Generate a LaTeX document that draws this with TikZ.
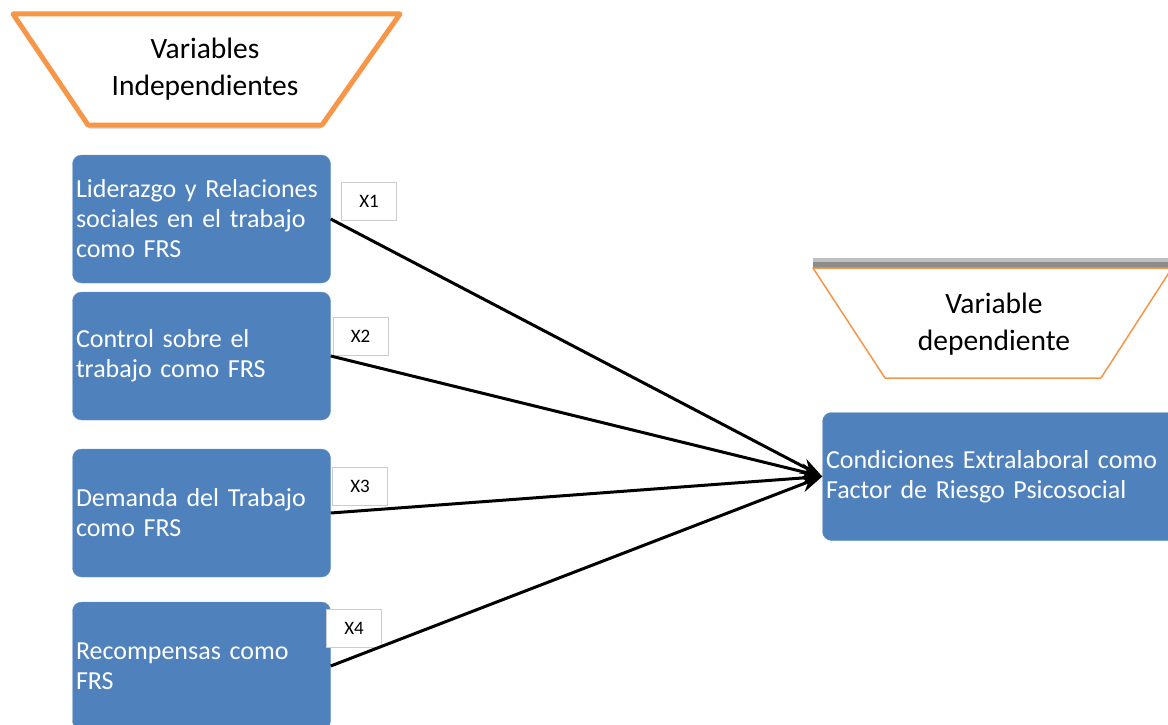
\documentclass[tikz,border=0pt]{standalone}
\usepackage{fontspec}
\setmainfont{Carlito}[WordSpace=0.7]
\usetikzlibrary{arrows.meta}
\definecolor{bluebox}{HTML}{4F81BD}
\definecolor{orangeline}{HTML}{F79646}
\tikzset{
  varbox/.style={fill=bluebox, draw=bluebox!80!white, rounded corners=9pt, minimum width=257pt, minimum height=128pt, text width=251pt, inner sep=3.5pt, align=left, text=white, font=\fontsize{26}{30}\selectfont},
  xlabel/.style={fill=white, draw=black!20, line width=0.8pt, minimum width=55pt, minimum height=38pt, inner sep=0pt, font=\fontsize{19}{20}\selectfont},
  link/.style={line width=3pt, -{Stealth[length=22pt,width=16pt]}},
  trap/.style={fill=white, draw=orangeline, line join=round}
}
\begin{document}
\begin{tikzpicture}[x=1pt,y=-1pt]
\useasboundingbox (0,0) rectangle (1168,725);
% trapezoid 1
\fill[black!12] (15,18) -- (398,18) -- (320,129) -- (90,129) -- cycle;
\draw[trap, line width=5pt] (13,14) -- (400,14) -- (322,125) -- (88,125) -- cycle;
\node[align=center, font=\fontsize{29.5}{37}\selectfont] (indep) at (205,69) {Variables\\Independientes};
% trapezoid 2
\fill[black!45] (813,262) rectangle (1170,268);
\fill[black!25] (813,258) rectangle (1170,262);
\draw[trap, line width=1.5pt] (813,268) -- (1172,268) -- (1101,378) -- (885,378) -- cycle;
\node[align=center, font=\fontsize{29.5}{37}\selectfont] (deplab) at (994,324) {Variable\\dependiente};
% boxes
\node[varbox] (b1) at (201.5,219) {Liderazgo y Relaciones\\sociales en el trabajo\\como FRS};
\node[varbox] (b2) at (201.5,356) {Control sobre el\\trabajo como FRS};
\node[varbox] (b3) at (201.5,513) {Demanda del Trabajo\\como FRS};
\node[varbox] (b4) at (201.5,666) {Recompensas como\\FRS};
\node[varbox, minimum width=360pt, text width=354pt] (dep) at (1003,476.5) {Condiciones Extralaboral como\\Factor de Riesgo Psicosocial};
% labels
\node[xlabel] (x1) at (369,201.5) {X1};
\node[xlabel] (x2) at (360.5,336) {X2};
\node[xlabel] (x3) at (360,486) {X3};
\node[xlabel] (x4) at (354,628.5) {X4};
% links
\draw[link] (b1.east) -- (dep.west);
\draw[link] (b2.east) -- (dep.west);
\draw[link] (b3.east) -- (dep.west);
\draw[link] (b4.east) -- (dep.west);
\end{tikzpicture}
\end{document}
